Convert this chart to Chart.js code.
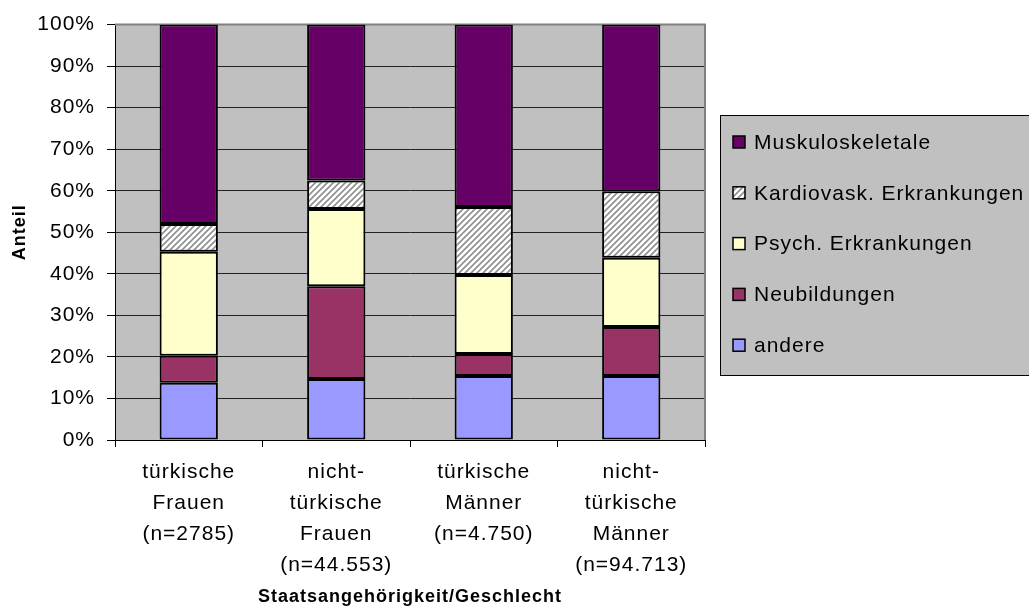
<!DOCTYPE html>
<html lang="de">
<head>
<meta charset="UTF-8">
<title>Anteil nach Staatsangehörigkeit/Geschlecht</title>
<script src="https://cdn.jsdelivr.net/npm/chart.js"></script>
<style>
  html, body { margin: 0; padding: 0; background: #fff; }
  #wrap { width: 1029px; height: 610px; }
</style>
</head>
<body>
<div id="wrap"><canvas id="chart" width="1029" height="610"></canvas></div>
<script>
// data (percent)
const categories = [
    ['türkische', 'Frauen', '(n=2785)'],
    ['nicht-', 'türkische', 'Frauen', '(n=44.553)'],
    ['türkische', 'Männer', '(n=4.750)'],
    ['nicht-', 'türkische', 'Männer', '(n=94.713)']
];
const andere       = [13.8, 14.7, 15.4, 15.4];
const neubildungen = [6.5, 22.3, 5.3, 11.8];
const psych        = [25.0, 18.6, 19.0, 16.7];
const kardio       = [6.7, 6.9, 16.4, 16.0];
const muskulo      = [48.0, 37.5, 43.9, 40.1];

const FONT = "'Liberation Sans', Arial, sans-serif";
Chart.defaults.font.family = FONT;
Chart.defaults.color = '#000';

// white with grey diagonal stripes
function hatch() {
    const c = document.createElement('canvas');
    c.width = c.height = 6;
    const g = c.getContext('2d');
    g.fillStyle = '#fff';
    g.fillRect(0, 0, 6, 6);
    g.strokeStyle = '#8f8f8f';
    g.lineWidth = 1.6;
    g.beginPath();
    g.moveTo(0, 6); g.lineTo(6, 0);
    g.moveTo(-3, 3); g.lineTo(3, -3);
    g.moveTo(3, 9); g.lineTo(9, 3);
    g.stroke();
    return g.createPattern(c, 'repeat');
}

const plotBack = {
    id: 'plotBack',
    beforeDraw(chart) {
        const { ctx, chartArea: a } = chart;
        ctx.letterSpacing = '1px';
        ctx.save();
        ctx.fillStyle = '#c0c0c0';
        ctx.fillRect(a.left, a.top, a.right - a.left, a.bottom - a.top);
        ctx.restore();
    },
    beforeDatasetsDraw(chart) {
        const { ctx, chartArea: a } = chart;
        ctx.save();
        ctx.strokeStyle = '#808080';
        ctx.lineWidth = 2;
        ctx.beginPath();
        ctx.moveTo(a.left, a.top);
        ctx.lineTo(a.right, a.top);
        ctx.lineTo(a.right, a.bottom);
        ctx.stroke();
        ctx.restore();
    }
};

const boxLegend = {
    id: 'boxLegend',
    afterDraw(chart) {
        const ctx = chart.ctx;
        ctx.save();
        ctx.fillStyle = '#c0c0c0';
        ctx.fillRect(720.5, 115.5, 330, 260);
        ctx.strokeStyle = '#000';
        ctx.lineWidth = 1;
        ctx.strokeRect(720.5, 115.5, 330, 260);
        ctx.font = '21px ' + FONT;
        ctx.textBaseline = 'middle';
        chart.data.datasets.slice().reverse().forEach((ds, i) => {
            const y = 142 + i * 50.8;
            ctx.fillStyle = ds.backgroundColor;
            ctx.fillRect(733, y - 6, 12, 12);
            ctx.strokeStyle = '#000';
            ctx.lineWidth = 1.5;
            ctx.strokeRect(733, y - 6, 12, 12);
            ctx.fillStyle = '#000';
            ctx.fillText(ds.label, 754, y + 1);
        });
        ctx.restore();
    }
};

const bar = { borderColor: '#000', borderWidth: 2, borderSkipped: false,
              categoryPercentage: 1, barPercentage: 0.395 };

new Chart(document.getElementById('chart'), {
    type: 'bar',
    data: {
        labels: categories,
        datasets: [
            { label: 'andere', data: andere, backgroundColor: '#9999ff', ...bar },
            { label: 'Neubildungen', data: neubildungen, backgroundColor: '#993366', ...bar },
            { label: 'Psych. Erkrankungen', data: psych, backgroundColor: '#ffffcc', ...bar },
            { label: 'Kardiovask. Erkrankungen', data: kardio, backgroundColor: hatch(), ...bar },
            { label: 'Muskuloskeletale', data: muskulo, backgroundColor: '#660066', ...bar }
        ]
    },
    options: {
        responsive: false,
        animation: false,
        devicePixelRatio: 1,
        layout: { padding: { top: 19, right: 324, bottom: 0, left: 0 } },
        plugins: { legend: { display: false }, tooltip: { enabled: false } },
        scales: {
            x: {
                stacked: true,
                afterFit(s) { s.height = 170; },
                grid: { drawOnChartArea: false, tickLength: 7, color: '#000', offset: true },
                border: { color: '#000', width: 1 },
                ticks: { font: { size: 21, lineHeight: '31px' }, padding: 10, maxRotation: 0 },
                title: { display: true, text: 'Staatsangehörigkeit/Geschlecht',
                         font: { size: 18, weight: 'bold' }, padding: { top: 0, bottom: 2 } }
            },
            y: {
                stacked: true,
                min: 0, max: 100,
                afterFit(s) { s.width = 115; },
                grid: { color: '#222', tickLength: 8, tickColor: '#000' },
                border: { color: '#000', width: 1 },
                ticks: { stepSize: 10, font: { size: 21 }, padding: 12,
                         callback: v => v + '%' },
                title: { display: true, text: 'Anteil',
                         font: { size: 18, weight: 'bold' }, padding: { top: 9, bottom: 0 } }
            }
        }
    },
    plugins: [plotBack, boxLegend]
});
</script>
</body>
</html>
